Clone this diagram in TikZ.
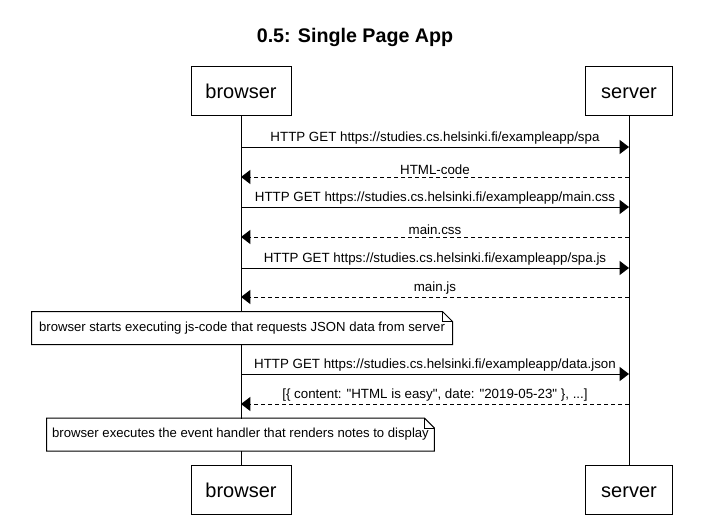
\documentclass[tikz,border=0pt]{standalone}
\usepackage{fontspec}
\setmainfont{Liberation Sans}
\newfontfamily\msgfont{Liberation Sans}
\usetikzlibrary{arrows.meta}

\begin{document}
\begin{tikzpicture}[x=0.75pt,y=-0.75pt,line width=0.75pt,
  actor/.style={draw,fill=white,minimum height=37pt,inner sep=0pt,text height=10.8pt,text depth=0pt,font=\fontsize{15}{18}\selectfont},
  msg/.style={above,inner sep=1.5pt,font=\msgfont\fontsize{10}{12}\selectfont},
  request/.style={-{Triangle[length=7pt,width=10.5pt]}},
  reply/.style={-{Triangle[length=7pt,width=10.5pt]},dash pattern=on 3pt off 2.25pt},
  note/.style={fill=white,minimum height=24pt,inner sep=0pt,font=\fontsize{9.85}{12}\selectfont}]
\useasboundingbox (0,0) rectangle (724,522);
\node[font=\fontsize{14.75}{18}\selectfont\bfseries] (title) at (355,37) {0.5: Single Page App};
\node[actor,minimum width=75pt] (browser) at (241,91) {browser};
\node[actor,minimum width=65pt] (server) at (629,91) {server};
\node[actor,minimum width=75pt] (browserEnd) at (241,490) {browser};
\node[actor,minimum width=65pt] (serverEnd) at (629,490) {server};
\draw (browser) -- (browserEnd);
\draw (server) -- (serverEnd);
% html page
\coordinate (b1) at (241,147); \coordinate (s1) at (629,147);
\draw[request] (b1) -- node[msg] (m1) {HTTP GET https://studies.cs.helsinki.fi/exampleapp/spa} (s1);
\coordinate (b2) at (241,177); \coordinate (s2) at (629,177);
\draw[reply] (s2) -- node[msg] (m2) {HTML-code} (b2);
% css
\coordinate (b3) at (241,207); \coordinate (s3) at (629,207);
\draw[request] (b3) -- node[msg] (m3) {HTTP GET https://studies.cs.helsinki.fi/exampleapp/main.css} (s3);
\coordinate (b4) at (241,237); \coordinate (s4) at (629,237);
\draw[reply] (s4) -- node[msg] (m4) {main.css} (b4);
% js
\coordinate (b5) at (241,268); \coordinate (s5) at (629,268);
\draw[request] (b5) -- node[msg] (m5) {HTTP GET https://studies.cs.helsinki.fi/exampleapp/spa.js} (s5);
\coordinate (b6) at (241,297); \coordinate (s6) at (629,297);
\draw[reply] (s6) -- node[msg] (m6) {main.js} (b6);
\node[note,minimum width=315pt] (note1) at (242,328) {browser starts executing js-code that requests JSON data from server};
\draw (note1.north west) -- ([xshift=-7.5pt]note1.north east) -- ([yshift=-7.5pt]note1.north east) -- (note1.south east) -- (note1.south west) -- cycle;
\draw ([xshift=-7.5pt]note1.north east) -- ([xshift=-7.5pt,yshift=-7.5pt]note1.north east) -- ([yshift=-7.5pt]note1.north east);
% json
\coordinate (b7) at (241,374); \coordinate (s7) at (629,374);
\draw[request] (b7) -- node[msg] (m7) {HTTP GET https://studies.cs.helsinki.fi/exampleapp/data.json} (s7);
\coordinate (b8) at (241,404); \coordinate (s8) at (629,404);
\draw[reply] (s8) -- node[msg] (m8) {[\{ content: "HTML is easy", date: "2019-05-23" \}, ...]} (b8);
\node[note,minimum width=290pt] (note2) at (240.5,434.5) {browser executes the event handler that renders notes to display};
\draw (note2.north west) -- ([xshift=-7.5pt]note2.north east) -- ([yshift=-7.5pt]note2.north east) -- (note2.south east) -- (note2.south west) -- cycle;
\draw ([xshift=-7.5pt]note2.north east) -- ([xshift=-7.5pt,yshift=-7.5pt]note2.north east) -- ([yshift=-7.5pt]note2.north east);
\end{tikzpicture}
\end{document}
